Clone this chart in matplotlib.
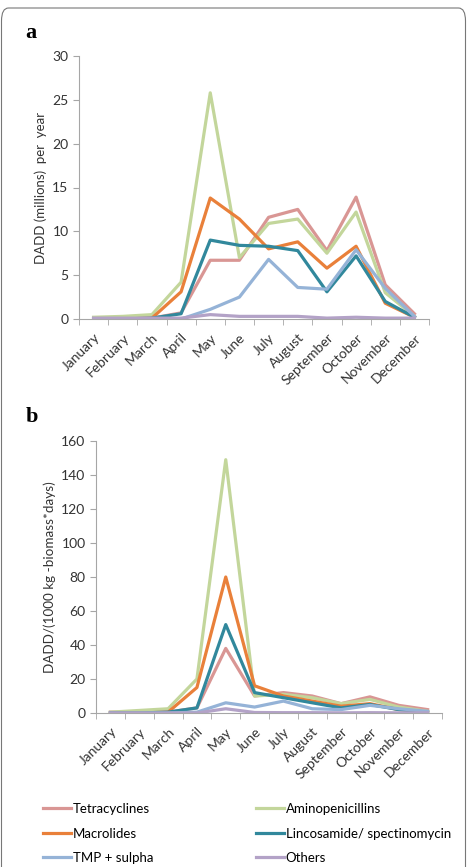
import matplotlib
matplotlib.use('Agg')
import matplotlib.pyplot as plt
from matplotlib.patches import FancyBboxPatch
import numpy as np

plt.rcParams['font.family'] = ['Lato', 'DejaVu Sans']

months = ['January', 'February', 'March', 'April', 'May', 'June', 'July',
          'August', 'September', 'October', 'November', 'December']
names = ['Tetracyclines', 'Aminopenicillins', 'Macrolides',
         'Lincosamide/ spectinomycin', 'TMP + sulpha', 'Others']
colors = ['#d99694', '#c3d69b', '#e9803a', '#31889c', '#95b3d7', '#b3a2c7']

# panel a: DADD (millions) per year
tetra_a = [0.1, 0.1, 0.1, 0.7, 6.7, 6.7, 11.6, 12.5, 7.8, 13.9, 3.9, 0.6]
amino_a = [0.2, 0.3, 0.5, 4.2, 25.8, 7.0, 10.9, 11.4, 7.5, 12.2, 3.0, 0.3]
macro_a = [0.0, 0.0, 0.1, 3.1, 13.8, 11.4, 8.0, 8.8, 5.8, 8.3, 1.8, 0.2]
linco_a = [0.0, 0.0, 0.1, 0.6, 9.0, 8.4, 8.3, 7.8, 3.1, 7.2, 2.0, 0.2]
tmp_a = [0.0, 0.0, 0.0, 0.0, 1.1, 2.5, 6.8, 3.6, 3.4, 7.9, 3.5, 0.3]
other_a = [0.1, 0.1, 0.1, 0.1, 0.5, 0.3, 0.3, 0.3, 0.1, 0.2, 0.1, 0.1]

# panel b: DADD/(1000 kg-biomass*days)
tetra_b = [0.5, 0.5, 0.5, 3, 38, 10, 12, 10, 5.5, 9.5, 4.5, 2]
amino_b = [0.5, 1.5, 2.5, 20, 149, 10, 11, 9, 5.5, 8, 3.5, 1]
macro_b = [0, 0, 0.5, 15, 80, 16, 10, 7, 4, 5.5, 2, 0.5]
linco_b = [0, 0, 0.5, 3, 52, 12, 9, 6, 3, 5, 2, 0.5]
tmp_b = [0, 0, 0, 0.5, 6, 3.5, 7, 2.5, 2, 4.5, 2.5, 1]
other_b = [0, 0, 0, 0, 2.5, 0.3, 0.2, 0.2, 0.1, 0.2, 0.1, 0.1]

series_a = [tetra_a, amino_a, macro_a, linco_a, tmp_a, other_a]
series_b = [tetra_b, amino_b, macro_b, linco_b, tmp_b, other_b]

W, H = 467, 867
fig = plt.figure(figsize=(W / 100, H / 100), dpi=100)

# rounded frame
frame = FancyBboxPatch((1.5 / W, 1 - 880 / H), 464 / W, 872 / H,
                       boxstyle='round,pad=0,rounding_size=0.015',
                       transform=fig.transFigure, fill=False,
                       edgecolor='#777777', linewidth=0.8)
fig.patches.append(frame)


def style_axis(ax, ymax, ystep):
    x = np.arange(len(months))
    ax.set_xlim(-0.5, len(months) - 0.5)
    ax.set_ylim(0, ymax)
    ax.set_yticks(np.arange(0, ymax + 1, ystep))
    ax.set_xticks(x)
    ax.set_xticklabels(months, rotation=45, ha='right', rotation_mode='anchor',
                       fontsize=10, color='#333333')
    ax.set_xticks(np.arange(-0.5, len(months)), minor=True)
    ax.tick_params(axis='x', which='major', length=0, pad=9)
    ax.tick_params(axis='x', which='minor', length=4, color='#a6a6a6')
    ax.tick_params(axis='y', length=4, color='#a6a6a6', labelsize=10,
                   labelcolor='#333333')
    for s in ['top', 'right']:
        ax.spines[s].set_visible(False)
    for s in ['left', 'bottom']:
        ax.spines[s].set_color('#a6a6a6')


ax1 = fig.add_axes([79 / W, 1 - 319 / H, 350 / W, 263 / H])
for vals, c, n in zip(series_a, colors, names):
    ax1.plot(np.arange(len(months)), vals, color=c, linewidth=2.3, label=n)
style_axis(ax1, 30, 5)
ax1.set_ylabel('DADD (millions)  per  year', fontsize=9.5, color='#333333')

ax2 = fig.add_axes([96 / W, 1 - 713 / H, 346 / W, 272 / H])
lines = []
for vals, c, n in zip(series_b, colors, names):
    ln, = ax2.plot(np.arange(len(months)), vals, color=c, linewidth=2.3, label=n)
    lines.append(ln)
style_axis(ax2, 160, 20)
ax2.set_ylabel('DADD/(1000 kg -biomass*days)', fontsize=9.7, color='#333333')

fig.text(25 / W, 1 - 33 / H, 'a', fontsize=16, fontweight='bold',
         family='Liberation Serif', va='center')
fig.text(26 / W, 1 - 417 / H, 'b', fontsize=16, fontweight='bold',
         family='Liberation Serif', va='center')

order = [0, 2, 4, 1, 3, 5]
fig.legend([lines[i] for i in order], [names[i] for i in order],
           loc='upper left', bbox_to_anchor=(43 / W, 1 - 803 / H), ncol=2,
           frameon=False, fontsize=9.5, handlelength=2.1, handletextpad=0.15,
           columnspacing=7.8, labelspacing=0.95, borderaxespad=0, borderpad=0)

fig.savefig('out.png', dpi=100)
